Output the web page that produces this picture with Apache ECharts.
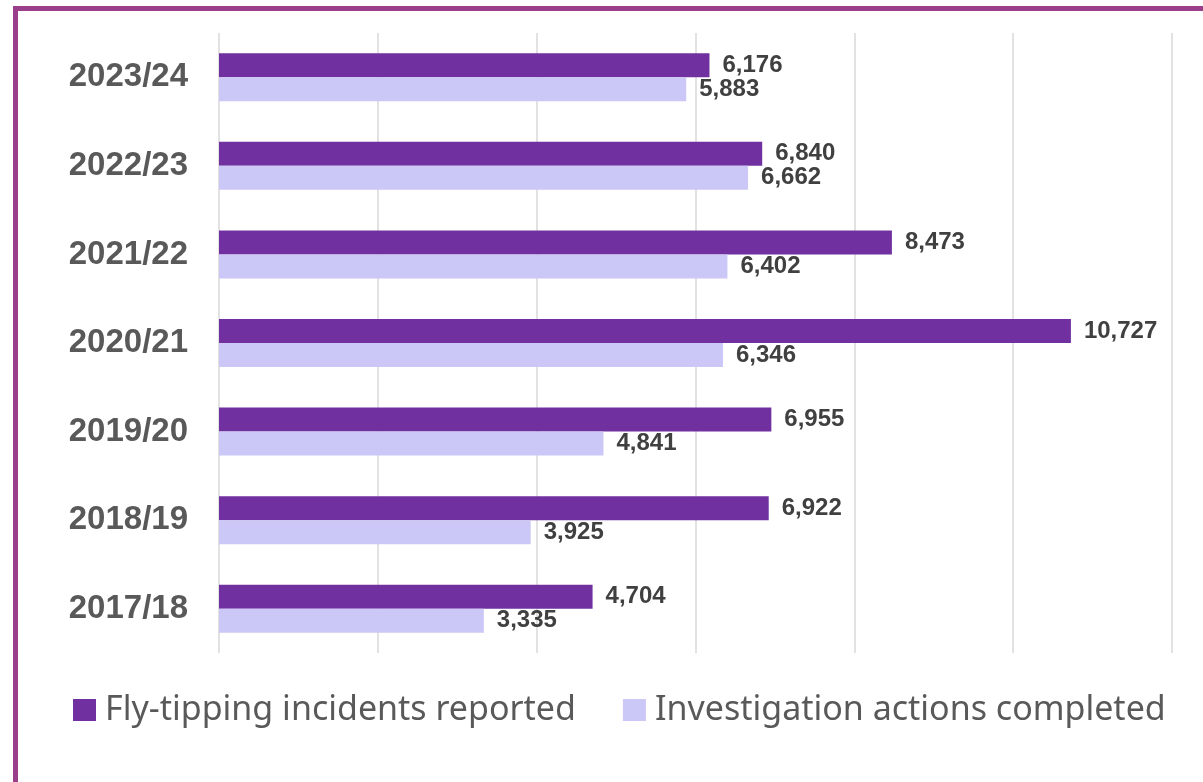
<!DOCTYPE html>
<html>
<head>
<meta charset="utf-8">
<script src="https://cdn.jsdelivr.net/npm/echarts@6/dist/echarts.min.js"></script>
<style>
  html, body { margin: 0; padding: 0; background: #fff; }
  #frame {
    position: absolute; left: 13px; top: 6px; width: 1190px; height: 776px;
    border-left: 5px solid #9b3f8b; border-top: 5px solid #9b3f8b;
    box-sizing: border-box;
  }
  #chart { position: absolute; left: 0; top: 0; width: 1203px; height: 782px; }
</style>
</head>
<body>
<div id="chart"></div>
<div id="frame"></div>
<script>
// bottom to top, as on the axis
var years = ["2017/18", "2018/19", "2019/20", "2020/21", "2021/22", "2022/23", "2023/24"];
var incidents = [4704, 6922, 6955, 10727, 8473, 6840, 6176];
var actions = [3335, 3925, 4841, 6346, 6402, 6662, 5883];
var seriesNames = ["Fly-tipping incidents reported", "Investigation actions completed"];

var myChart = echarts.init(document.getElementById("chart"));

var valueLabel = {
  show: true,
  position: "right",
  distance: 13,
  color: "#404040",
  fontFamily: "Liberation Sans, Arial, sans-serif",
  fontWeight: "bold",
  fontSize: 24,
  formatter: function(p) {
    return p.value.toLocaleString("en-GB");
  }
};

myChart.setOption({
  animation: false,
  grid: { left: 219, right: 31, top: 33, bottom: 129 },
  legend: {
    left: 68,
    top: 688,
    itemWidth: 23,
    itemHeight: 22,
    itemGap: 47,
    icon: "rect",
    textStyle: {
      color: "#595959",
      fontFamily: "Noto Sans, sans-serif",
      fontSize: 34,
      padding: [0, 0, 0, 4]
    },
    data: seriesNames
  },
  xAxis: {
    type: "value",
    min: 0,
    max: 12000,
    interval: 2000,
    axisLabel: { show: false },
    axisLine: { show: false },
    axisTick: { show: false },
    splitLine: { lineStyle: { color: "#d9d9d9", width: 1.5 } }
  },
  yAxis: {
    type: "category",
    data: years,
    axisLine: { show: false },
    axisTick: { show: false },
    axisLabel: {
      color: "#595959",
      fontFamily: "Liberation Sans, Arial, sans-serif",
      fontWeight: "bold",
      fontSize: 33,
      margin: 31
    }
  },
  series: [
    {
      name: seriesNames[0],
      type: "bar",
      data: incidents,
      barWidth: 24,
      barGap: "0%",
      itemStyle: { color: "#7030a0" },
      label: valueLabel
    },
    {
      name: seriesNames[1],
      type: "bar",
      data: actions,
      barWidth: 24,
      itemStyle: { color: "#cbc7f7" },
      label: valueLabel
    }
  ]
});
</script>
</body>
</html>
